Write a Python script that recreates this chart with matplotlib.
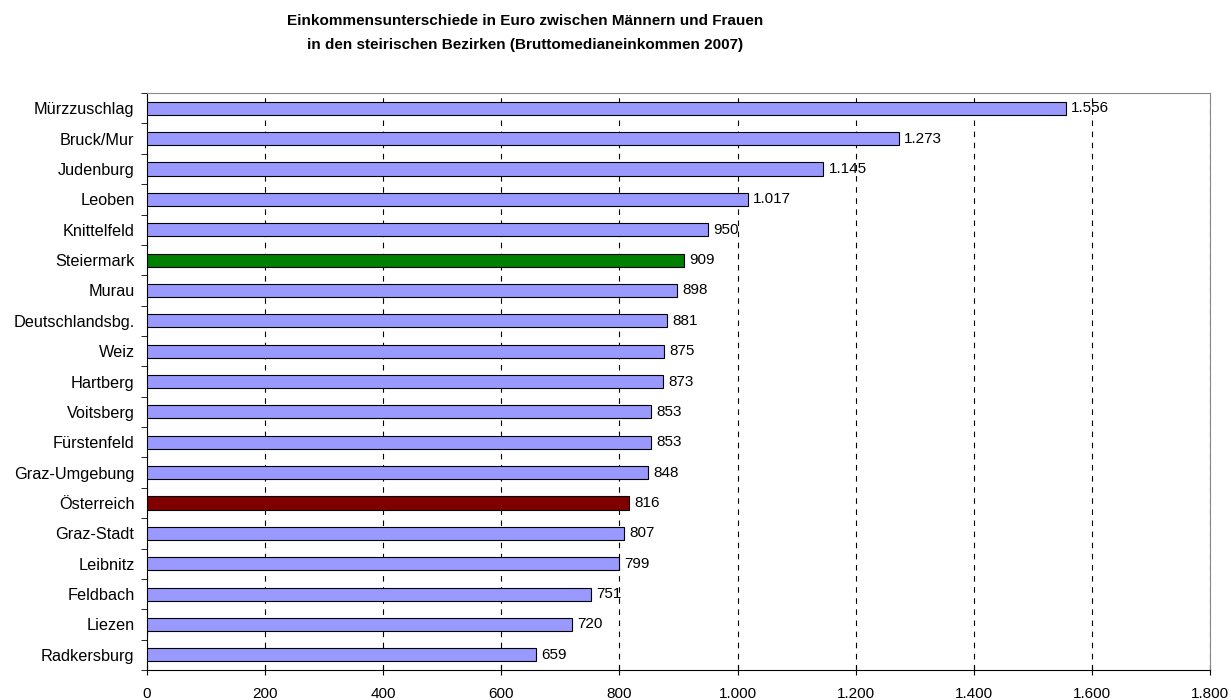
import matplotlib.pyplot as plt
from matplotlib.ticker import FuncFormatter

plt.rcParams['font.family'] = ['Liberation Sans', 'DejaVu Sans']

bezirke = ['Mürzzuschlag', 'Bruck/Mur', 'Judenburg', 'Leoben', 'Knittelfeld',
           'Steiermark', 'Murau', 'Deutschlandsbg.', 'Weiz', 'Hartberg',
           'Voitsberg', 'Fürstenfeld', 'Graz-Umgebung', 'Österreich',
           'Graz-Stadt', 'Leibnitz', 'Feldbach', 'Liezen', 'Radkersburg']
differenz = [1556, 1273, 1145, 1017, 950, 909, 898, 881, 875, 873,
             853, 853, 848, 816, 807, 799, 751, 720, 659]
xticks = [0, 200, 400, 600, 800, 1000, 1200, 1400, 1600, 1800]

farben = []
for b in bezirke:
    if b == 'Steiermark':
        farben.append('#008000')
    elif b == 'Österreich':
        farben.append('#800000')
    else:
        farben.append('#9999FF')


def de_fmt(v, pos=None):
    return f'{int(v):,}'.replace(',', '.')


fig = plt.figure(figsize=(12.31, 7), dpi=100)
ax = fig.add_axes([0.1194, 0.0429, 0.8636, 0.8241])

y = list(range(len(bezirke)))
ax.barh(y, differenz, height=0.43, color=farben, edgecolor='black', linewidth=0.8, zorder=3)

for yi, v in zip(y, differenz):
    ax.text(v + 9, yi, de_fmt(v), va='center', ha='left', fontsize=11, zorder=4)

ax.set_ylim(len(bezirke) - 0.5, -0.5)
ax.set_xlim(0, 1800)
ax.set_xticks(xticks)
ax.xaxis.set_major_formatter(FuncFormatter(de_fmt))
ax.set_yticks(y)
ax.set_yticklabels(bezirke)
ax.set_yticks([i + 0.5 for i in range(-1, len(bezirke))], minor=True)
ax.tick_params(axis='y', which='major', length=0, labelsize=11.7, pad=9)
ax.tick_params(axis='y', which='minor', length=4, direction='out', color='black')
ax.tick_params(axis='x', length=7, direction='inout', labelsize=11, pad=9)

ax.grid(axis='x', color='black', linestyle=(0, (5, 5)), linewidth=0.8, zorder=0)
for s in ['left', 'bottom']:
    ax.spines[s].set_color('black')
for s in ['top', 'right']:
    ax.spines[s].set_color('#888888')

fig.text(0.4265, 0.953, 'Einkommensunterschiede in Euro zwischen Männern und Frauen\n'
         'in den steirischen Bezirken (Bruttomedianeinkommen 2007)',
         ha='center', va='center', fontsize=11, fontweight='bold', linespacing=1.85)

fig.savefig('out.png', dpi=100)
